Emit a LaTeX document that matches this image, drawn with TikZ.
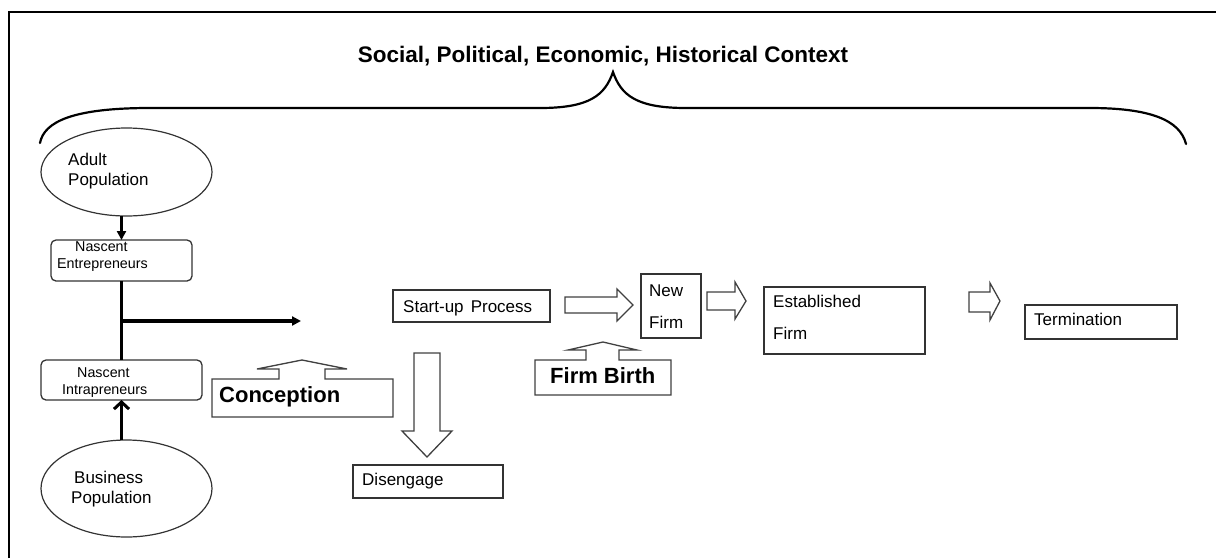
\documentclass[tikz,border=0pt]{standalone}
\usepackage{fontspec}
\setmainfont{Liberation Sans}
\usetikzlibrary{arrows.meta,shapes.geometric}
\begin{document}
\begin{tikzpicture}[x=1pt,y=-1pt,
  box/.style={draw=black!80, line width=1.3pt, inner sep=0pt, outer sep=0pt, anchor=north west},
  rbox/.style={box, rounded corners=5pt},
  oval/.style={draw=black!80, line width=1.2pt, ellipse, inner sep=0pt, outer sep=0pt},
  txt/.style={anchor=base west, inner sep=0pt, font=\fontsize{17}{20}\selectfont},
  smalltxt/.style={anchor=base west, inner sep=0pt, font=\fontsize{14.3}{17}\selectfont},
  boldtxt/.style={anchor=base west, inner sep=0pt, font=\fontsize{22}{26}\selectfont\bfseries},
  blockarrow/.style={draw=black!75, line width=1.3pt, fill=white, line join=miter},
  flowline/.style={line width=3.2pt, black},
  tipped/.style={flowline, -{Triangle[length=9pt,width=9pt]}},
  barbed/.style={flowline, -{Straight Barb[length=7pt,width=15pt,line width=3pt]}}
]
\useasboundingbox (0,0) rectangle (1216,558);

% frame
\draw[line width=1.6pt] (9,558) -- (9,12) -- (1216,12);

% title and brace
\node[anchor=base, inner sep=0pt, font=\fontsize{22.5}{26}\selectfont\bfseries] (title) at (603,62) {Social, Political, Economic, Historical Context};
\draw[line width=2.2pt, line cap=round]
  (40,143) .. controls (44,122) and (72,108) .. (150,108)
  -- (540,108) .. controls (590,108) and (605,95) .. (613,72)
  .. controls (621,95) and (636,108) .. (686,108)
  -- (1090,108) .. controls (1150,108) and (1180,120) .. (1186,144);

% left column
\node[oval, minimum width=171pt, minimum height=88pt] (adult) at (126.5,172) {};
\node[txt] (adultA) at (68,165) {Adult};
\node[txt] (adultB) at (68,185) {Population};

\node[rbox, minimum width=141pt, minimum height=41pt] (ne) at (51,240) {};
\node[smalltxt] (neA) at (75,251) {Nascent};
\node[smalltxt] (neB) at (57,268) {Entrepreneurs};

\node[rbox, minimum width=161pt, minimum height=40pt] (ni) at (41,360) {};
\node[smalltxt] (niA) at (77,377) {Nascent};
\node[smalltxt] (niB) at (62,394) {Intrapreneurs};

\node[oval, minimum width=171pt, minimum height=97pt] (bus) at (126.5,488.5) {};
\node[txt] (busA) at (74,483) {Business};
\node[txt] (busB) at (71,503) {Population};

\draw[tipped] (ne.north |- adult.south) -- (ne.north);
\draw[flowline] (ne.south) -- (ni.north);
\coordinate (hend) at (301,321);
\draw[tipped] (ne.south |- hend) -- (hend);
\draw[barbed] (ni.south |- bus.north) -- (ni.south);

% Conception callout
\draw[blockarrow] (212,379) -- (279,379) -- (279,369) -- (257,369) -- (302,360) -- (347,369) -- (325,369) -- (325,379) -- (393,379) -- (393,417) -- (212,417) -- cycle;
\node[boldtxt] (conc) at (219,402) {Conception};

% Start-up process
\node[box, minimum width=157pt, minimum height=32pt] (sp) at (393,290) {};
\node[txt] (spT) at (403,312) {Start-up\hspace{0.42em}Process};

% Disengage
\draw[blockarrow] (414,353) -- (440,353) -- (440,431) -- (452,431) -- (427,457) -- (402,431) -- (414,431) -- cycle;
\node[box, minimum width=150pt, minimum height=33pt] (dis) at (353,465) {};
\node[txt] (disT) at (362,485) {Disengage};

% arrow to New Firm
\draw[blockarrow] (565,297) -- (617,297) -- (617,289) -- (633,305) -- (617,321) -- (617,313) -- (565,313) -- cycle;

% New Firm
\node[box, minimum width=60pt, minimum height=64pt] (nf) at (641,274) {};
\node[txt] (nfA) at (649,296) {New};
\node[txt] (nfB) at (649,328) {Firm};

% Firm Birth callout
\draw[blockarrow] (535,360) -- (586,360) -- (586,350) -- (568,350) -- (603,342) -- (637,350) -- (619,350) -- (619,360) -- (671,360) -- (671,395) -- (535,395) -- cycle;
\node[boldtxt] (fb) at (550,383) {Firm Birth};

% arrow to Established
\draw[blockarrow] (707,292) -- (735,292) -- (735,282) -- (746,301) -- (735,319) -- (735,310) -- (707,310) -- cycle;

% Established Firm
\node[box, minimum width=161pt, minimum height=67pt] (ef) at (764,287) {};
\node[txt] (efA) at (773,307) {Established};
\node[txt] (efB) at (773,339) {Firm};

% arrow to Termination
\draw[blockarrow] (969,292) -- (990,292) -- (990,283) -- (1000,301) -- (990,320) -- (990,312) -- (969,312) -- cycle;

% Termination
\node[box, minimum width=152pt, minimum height=34pt] (term) at (1025,305) {};
\node[txt] (termT) at (1034,325) {Termination};
\end{tikzpicture}
\end{document}
